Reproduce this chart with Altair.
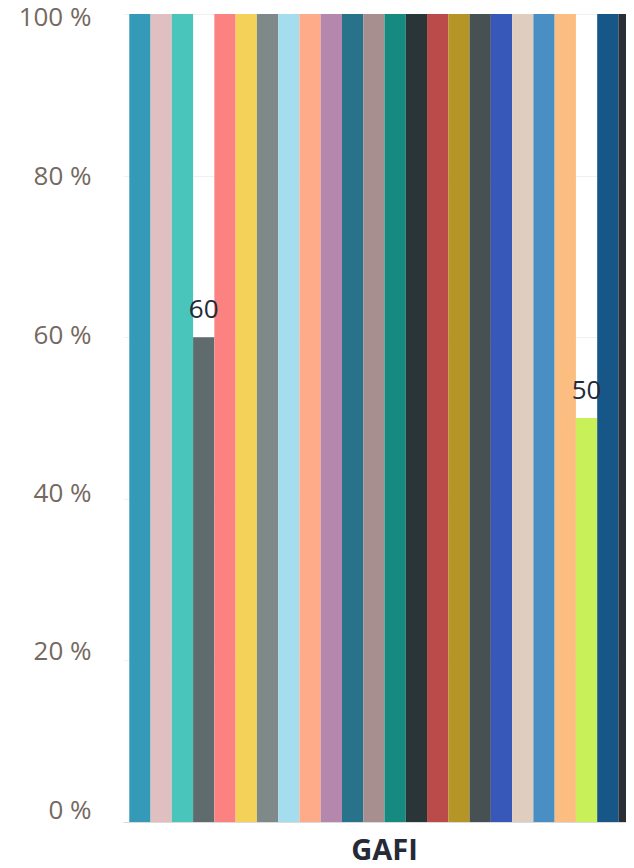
import altair as alt
import pandas as pd

category = "GAFI"
series = ["S01", "S02", "S03", "S04", "S05", "S06", "S07", "S08",
          "S09", "S10", "S11", "S12", "S13", "S14", "S15", "S16",
          "S17", "S18", "S19", "S20", "S21", "S22", "S23", "S24"]
values = [100, 100, 100, 60, 100, 100, 100, 100,
          100, 100, 100, 100, 100, 100, 100, 100,
          100, 100, 100, 100, 100, 50, 100, 100]
colors = ["#3599b8", "#dfbfbf", "#4ac5bb", "#5f6b6d", "#fb8281", "#f4d25a",
          "#7f898a", "#a4ddee", "#fdab89", "#b687ac", "#28738a", "#a78f8f",
          "#168980", "#293537", "#bb4a4a", "#b59525", "#475052", "#3758b8",
          "#dfcebf", "#4a8fc4", "#fbbd80", "#c7f059", "#175788", "#2a2e36"]
y_ticks = [0, 20, 40, 60, 80, 100]

df = pd.DataFrame({"group": [category] * len(series), "series": series, "value": values})

font = "Open Sans"
W, H = 503, 808

label_shift = {
    "condition": [
        {"test": "datum.value === 100", "value": 3.5},
        {"test": "datum.value === 80", "value": 0.5},
        {"test": "datum.value === 60", "value": -2},
        {"test": "datum.value === 40", "value": -5.5},
        {"test": "datum.value === 20", "value": -8.5},
    ],
    "value": -12,
}

x_enc = alt.X("group:N", title=None,
              scale=alt.Scale(range=[0, 523], paddingInner=0, paddingOuter=0.0123),
              axis=alt.Axis(domain=False, ticks=False, labelFont=font, labelFontSize=29,
                            labelFontWeight="bold", labelColor="#252a36", labelAngle=0,
                            labelBaseline="alphabetic", labelPadding=37))
xo_enc = alt.XOffset("series:N", sort=series,
                     scale=alt.Scale(domain=series, paddingInner=0, paddingOuter=0))
y_enc = alt.Y("value:Q", title=None,
              scale=alt.Scale(domain=[0, 100], nice=False),
              axis=alt.Axis(values=y_ticks, labelExpr="datum.value + ' %'",
                            labelFont=font, labelFontSize=26, labelColor="#76695f",
                            labelPadding=32, ticks=False, domain=False,
                            labelOffset=label_shift,
                            gridColor=alt.condition("datum.value === 0",
                                                    alt.value("#d9d9d9"),
                                                    alt.value("#f0f0f0")),
                            gridWidth=1))

bars = alt.Chart(df).mark_bar(clip=True).encode(
    x=x_enc, xOffset=xo_enc, y=y_enc,
    color=alt.Color("series:N", scale=alt.Scale(domain=series, range=colors), legend=None),
)

labels = alt.Chart(df).transform_filter("datum.value < 100").mark_text(
    font=font, fontSize=26, color="#252a36", baseline="middle", dy=-27, clip=True
).encode(x=x_enc, xOffset=xo_enc, y=y_enc, text=alt.Text("value:Q"))

chart = alt.layer(bars, labels).properties(
    width=W, height=H,
    autosize=alt.AutoSizeParams(type="none"),
    padding={"left": 115, "top": 6, "right": 0, "bottom": 38},
).configure_view(stroke=None)

chart.save("out.html", embed_options={"renderer": "svg", "actions": False})
